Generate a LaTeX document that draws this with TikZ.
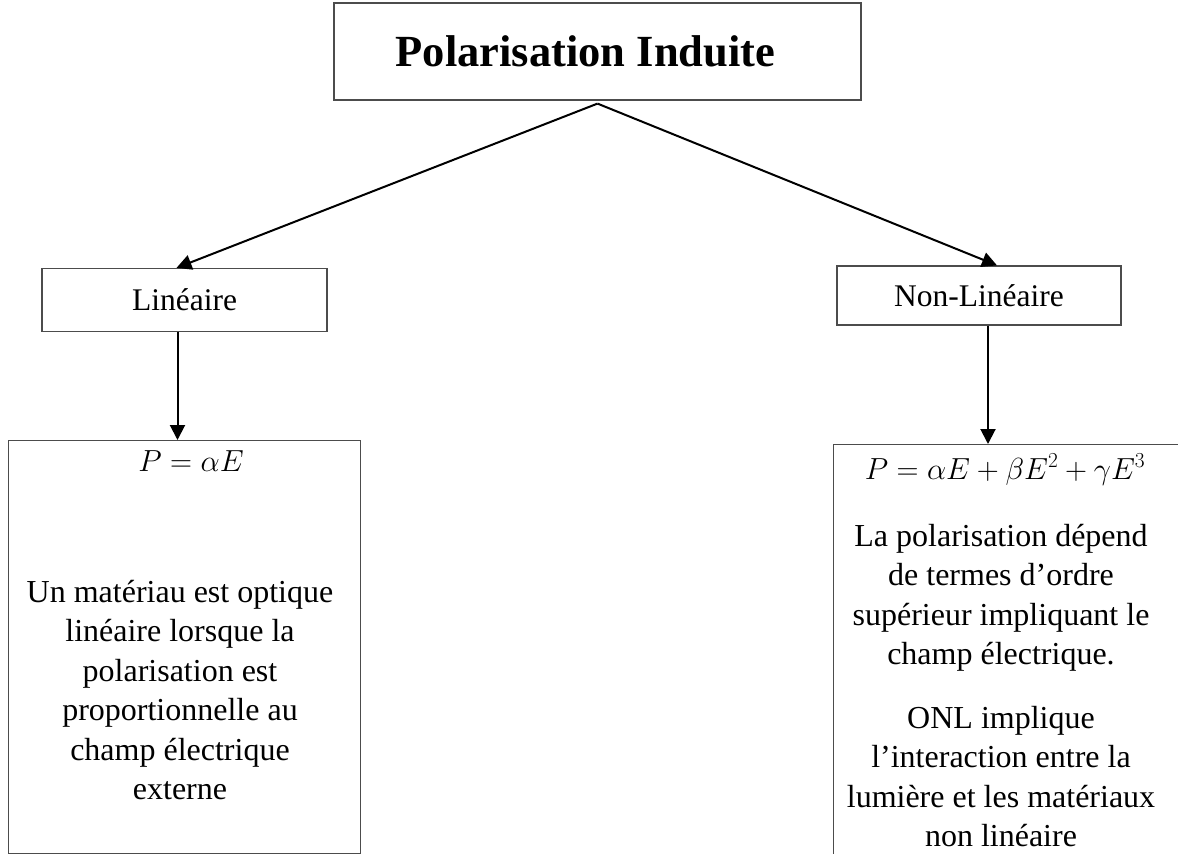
\RequirePackage{fix-cm}
\documentclass[tikz,border=0pt]{standalone}
\usepackage{fontspec}
\setmainfont{Liberation Serif}
\usepackage{amsmath}
\usetikzlibrary{positioning,arrows.meta}

\tikzset{
  box/.style={draw=black!70, line width=1.2pt, fill=white, inner sep=0pt},
  edge/.style={draw=black, line width=2pt, -{Triangle[length=15pt,width=15pt]}},
  txt/.style={align=center, inner sep=0pt, font=\fontsize{32}{39.5}\selectfont},
  eqn/.style={inner sep=0pt, anchor=base, font=\fontsize{30.5}{36}\selectfont},
}

\begin{document}
\begin{tikzpicture}[x=1pt, y=-1pt]
        \useasboundingbox (0,0) rectangle (1178,854);
        \clip (0,0) rectangle (1178,854);

        % NODES
        % -----------------

        \node[box, minimum width=527, minimum height=97, text depth=0pt,
              font=\fontsize{44.5}{50}\selectfont\bfseries]   (induced) at (597.5,51.5) {\kern-24pt Polarisation Induite};

        \node[box, minimum width=285, minimum height=63, font=\fontsize{31.5}{38}\selectfont]   (lin)    at (184.5,300)  {Linéaire};
        \node[box, minimum width=284, minimum height=59, font=\fontsize{31.5}{38}\selectfont]   (nonlin) at (979,295.5)  {Non-Linéaire};

        % lower boxes run past the page edge
        \node[box, minimum width=352, minimum height=413, anchor=north west] (lin_box)    at (8,440)   {};
        \node[box, minimum width=420, minimum height=460, anchor=north west] (nonlin_box) at (833,444) {};

        % TEXTS
        % -----------------

        \node[eqn] (lin_eq)  at (191,471) {$P = \alpha E$};
        \node[txt, anchor=north] (lin_txt) at (180,580)
          {Un matériau est optique\\ linéaire lorsque la\\ polarisation est\\ proportionnelle au\\ champ électrique\\ externe};

        \node[eqn] (nonlin_eq) at (1005,479) {$P = \alpha E + \beta E^2 + \gamma E^3$};
        \node[txt, anchor=north] (nonlin_txt) at (1001,524)
          {La polarisation dépend\\ de termes d’ordre\\ supérieur impliquant le\\ champ électrique.};
        \node[txt, anchor=north] (onl_txt) at (1001,706)
          {ONL implique\\ l’interaction entre la\\ lumière et les matériaux\\ non linéaire};

        % EDGES
        % -----------------

        \draw[edge] ([yshift=-3]induced.south) -- ([xshift=-8]lin.north);
        \draw[edge] ([yshift=-3]induced.south) -- ([xshift=18]nonlin.north);
        \draw[edge] ([xshift=-7]lin.south) -- ([xshift=-7]lin.south |- lin_box.north);
        \draw[edge] ([xshift=9]nonlin.south) -- ([xshift=9]nonlin.south |- nonlin_box.north);

\end{tikzpicture}
\end{document}
